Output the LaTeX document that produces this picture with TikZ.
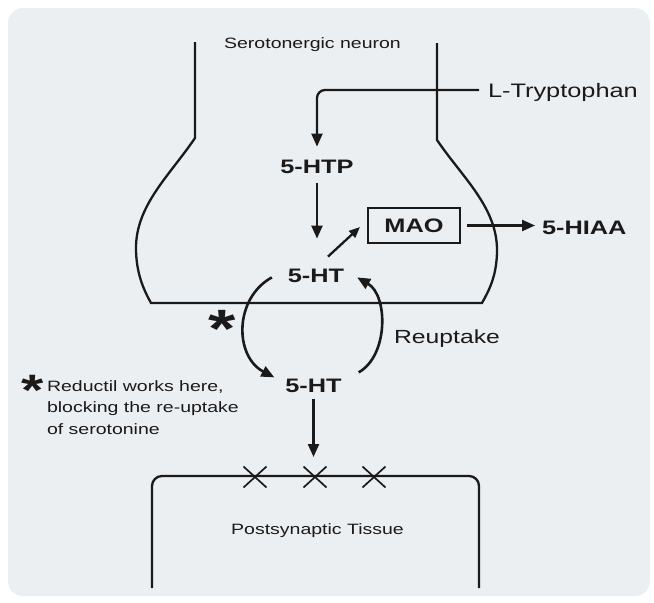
\documentclass[tikz,border=0pt]{standalone}
\usepackage{fontspec}
\setmainfont{Liberation Sans}
\usetikzlibrary{arrows.meta,calc}
\definecolor{bg}{HTML}{ECEFF2}
\definecolor{ink}{HTML}{1A1A1A}
\newcommand{\sx}[1]{\scalebox{1.3}[1]{#1}}
\begin{document}
\begin{tikzpicture}[x=1pt,y=-1pt,
  lbl/.style={inner sep=0pt, outer sep=0pt, text=ink, anchor=base},
  small/.style={lbl, font=\fontsize{15}{18}\selectfont},
  mid/.style={lbl, font=\fontsize{19.5}{23}\selectfont},
  big/.style={lbl, font=\fontsize{19.5}{23}\selectfont\bfseries},
  astr/.style={lbl, font=\fontsize{#1}{#1}\selectfont\bfseries},
  line/.style={draw=ink, line width=2.3pt},
  arr/.style={line, -{Triangle[length=13pt,width=11pt]}},
  xmark/.style={draw=ink, line width=1.7pt}
]
\useasboundingbox (0,0) rectangle (654,603);
\fill[white] (0,0) rectangle (654,603);
\fill[bg, rounded corners=15pt] (8,8) rectangle (650,596);

% neuron outline
\draw[line] (195,42) -- (195,138)
  .. controls (170,175) and (136,205) .. (136,248)
  .. controls (136,275) and (145,292) .. (151,303)
  -- (482,303)
  .. controls (488,292) and (497,277) .. (497,250)
  .. controls (497,207) and (462,177) .. (437,140)
  -- (437,43);

% labels
\node[small] (sn) at (312.5,48.5) {\sx{Serotonergic neuron}};
\node[mid, anchor=base west] (lt) at (488,97) {\sx{L-Tryptophan}};
\node[big] (htp) at (317,173) {\sx{5-HTP}};
\node[big] (ht1) at (316,282) {\sx{5-HT}};
\node[big, anchor=center, draw=ink, line width=1.9pt, minimum width=92pt, minimum height=35pt] (mao) at (414,225.5) {\sx{MAO}};
\node[big, anchor=base west] (hiaa) at (542,234) {\sx{5-HIAA}};
\node[lbl, font=\fontsize{19}{23}\selectfont] (reup) at (447,343) {\sx{Reuptake}};
\node[big] (ht2) at (313.5,392) {\sx{5-HT}};
\node[astr=54] (ast1) at (222.5,347) {\sx{*}};

% footnote
\node[astr=44] (ast2) at (32.5,405) {\sx{*}};
\node[small, anchor=base west] (n1) at (47,391) {\sx{Reductil works here,}};
\node[small, anchor=base west] (n2) at (47,412.5) {\sx{blocking the re-uptake}};
\node[small, anchor=base west] (n3) at (47,434) {\sx{of serotonine}};

% postsynaptic tissue
\draw[line, rounded corners=10pt] (152,588) -- (152,476) -- (479,476) -- (479,588);
\coordinate (boxtop) at (313.5,476);
\foreach \x in {255,315,374}
  \draw[xmark] (\x-11.5,466.5) -- (\x+11.5,487.5) (\x-11.5,487.5) -- (\x+11.5,466.5);
\node[small] (pt) at (317.5,534) {\sx{Postsynaptic Tissue}};

% connectors
\draw[arr, rounded corners=8pt, shorten <=9pt, shorten >=13pt] ($(lt.base west)+(0,-7)$) -| (htp.north);
\draw[arr, shorten <=10pt, shorten >=30pt] (htp.south) -- (htp.south |- ht1.north);
\draw[arr, -{Triangle[length=11pt,width=9pt]}] ($(ht1.north)+(12,-12)$) -- ($(mao.west)+(-8,1.5)$);
\draw[arr, shorten <=7pt, shorten >=7pt] (mao.east) -- (hiaa.west |- mao.east);
\draw[arr, line width=2.6pt] ($(ht1.west)+(-16,2)$) .. controls +(-38,21) and +(-40,-21) .. ($(ht2.west)+(-11,-8)$);
\draw[arr, line width=2.6pt] ($(ht2.east)+(17,-13)$) .. controls +(30,-17) and +(31,18) .. ($(ht1.east)+(13,2)$);
\draw[arr, shorten <=7pt, shorten >=19pt] (ht2.south) -- (ht2.south |- boxtop);
\end{tikzpicture}
\end{document}
